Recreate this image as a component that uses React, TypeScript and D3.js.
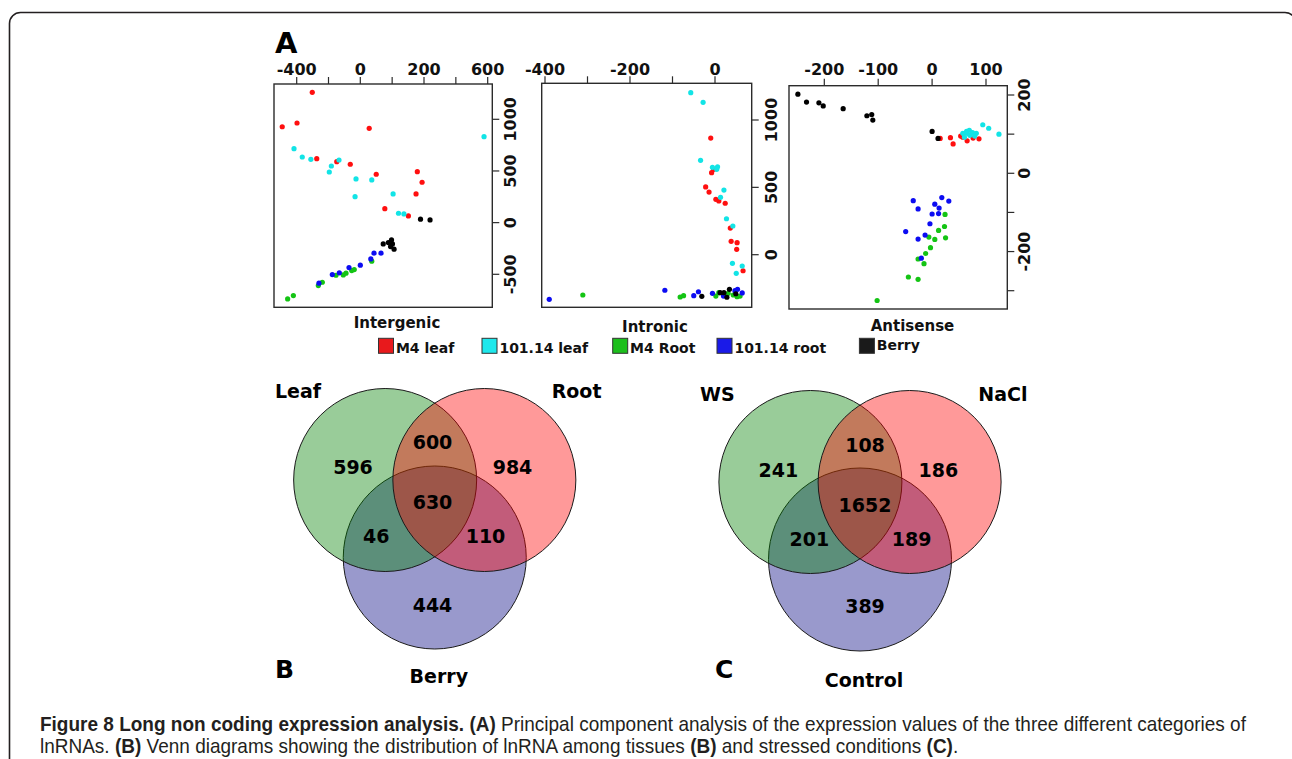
import React, { useLayoutEffect, useRef, useState } from 'react';
import * as d3 from 'd3';

type Pt = [number, number];

// ---------- Panel A : PCA scatter data ----------
const seriesNames = ['M4 leaf', '101.14 leaf', 'M4 Root', '101.14 root', 'Berry'];
const pointColors = ['#ff0f0f', '#12e4e6', '#14c414', '#0c0cf2', '#000000'];
const legendColors = ['#e8191c', '#1ee8ec', '#1cbf1c', '#1a1ae8', '#1a1a1a'];

// Intergenic
const intergenicM4Leaf: Pt[] = [[-302, 1261], [-491, 928], [-398, 964], [28, 913], [-274, 619], [-148, 590], [-63, 565], [50, 468], [179, 493], [194, 391], [175, 278], [77, 135], [151, 65]];
const intergenic10114Leaf: Pt[] = [[577, 832], [-417, 716], [-365, 635], [-311, 613], [-134, 606], [-182, 548], [-195, 490], [-27, 423], [36, 413], [-33, 251], [103, 278], [120, 91], [137, 84]];
const intergenicM4Root: Pt[] = [[36, -373], [-38, -454], [-54, -464], [-90, -489], [-107, -506], [-153, -509], [-239, -577], [-264, -609], [-421, -706], [-457, -738]];
const intergenic10114Root: Pt[] = [[43, -296], [65, -296], [33, -351], [0, -412], [-71, -435], [-132, -486], [-176, -503], [-260, -586]];
const intergenicBerry: Pt[] = [[189, 33], [238, 26], [72, -206], [88, -193], [98, -167], [101, -206], [95, -232], [106, -257]];

// Intronic
const intronicM4Leaf: Pt[] = [[-10, 866], [-3, 634], [-8, 609], [-22, 503], [-14, 465], [2, 411], [9, 399], [24, 382], [36, 198], [38, 99], [52, 89], [51, 40], [66, -119]];
const intronic10114Leaf: Pt[] = [[-57, 1203], [-28, 1131], [-34, 701], [-6, 649], [6, 653], [4, 634], [21, 480], [13, 426], [27, 267], [42, 213], [41, -64], [64, -84], [50, -138]];
const intronicM4Root: Pt[] = [[-311, -299], [-82, -314], [-74, -304], [2, -307], [9, -282], [31, -287], [52, -312], [59, -307], [43, -299]];
const intronic10114Root: Pt[] = [[-390, -331], [-118, -264], [-50, -304], [-39, -275], [-6, -287], [20, -307], [47, -267], [53, -257], [64, -284]];
const intronicBerry: Pt[] = [[-31, -309], [12, -282], [21, -282], [28, -316], [34, -257], [49, -290]];

// Antisense
const antisenseM4Leaf: Pt[] = [[15, 89], [34, 91], [39, 75], [53, 95], [65, 83], [76, 90], [87, 88], [57, 92]];
const antisense10114Leaf: Pt[] = [[94, 124], [105, 115], [124, 100], [57, 102], [64, 107], [69, 110], [75, 104], [82, 102], [60, 92], [70, 97], [79, 95], [65, 102]];
const antisenseM4Root: Pt[] = [[24, -105], [23, -136], [12, -146], [-6, -163], [5, -169], [25, -165], [-3, -190], [-12, -205], [-26, -219], [-15, -231], [-44, -265], [-26, -271], [-102, -325]];
const antisense10114Root: Pt[] = [[-35, -70], [18, -62], [31, -71], [5, -79], [-26, -91], [13, -89], [0, -104], [12, -103], [-4, -129], [-49, -149], [-13, -158], [-26, -168], [-20, -217]];
const antisenseBerry: Pt[] = [[-249, 202], [-233, 182], [-210, 180], [-202, 172], [-165, 165], [-121, 147], [-112, 150], [-110, 136], [0, 107], [11, 89]];

// Axis ticks
const intergenicXTicks = [-400, -200, 0, 100, 200, 400, 600];
const intergenicXTickLabels = ['-400', '0', '200', '600'];
const intergenicYTicks = [-500, 0, 500, 1000];
const intronicXTicks = [-400, -300, -200, -100, 0];
const intronicXTickLabels = ['-400', '-200', '0'];
const intronicYTicks = [0, 500, 1000];
const antisenseXTicks = [-200, -100, 0, 100];
const antisenseXTickLabels = ['-200', '-100', '0', '100'];
const antisenseYTicks = [-300, -200, -100, 0, 100, 200];
const antisenseYTickLabels = ['200', '0', '-200'];

// ---------- Panels B & C : Venn data ----------
const tissueSets = ['Leaf', 'Root', 'Berry'];
// regions: A only, A∩B, B only, A∩B∩C, A∩C, B∩C, C only
const tissueCounts = [596, 600, 984, 630, 46, 110, 444];
const stressSets = ['WS', 'NaCl', 'Control'];
const stressCounts = [241, 108, 186, 1652, 201, 189, 389];
const vennColors = ['#008000', '#ff0000', '#000080'];

// ---------- Caption ----------
const captionLine1 = [
  { text: 'Figure 8 Long non coding expression analysis. ', bold: true },
  { text: '(A)', bold: true },
  { text: ' Principal component analysis of the expression values of the three different categories of', bold: false },
];
const captionLine2 = [
  { text: 'lnRNAs. ', bold: false },
  { text: '(B)', bold: true },
  { text: ' Venn diagrams showing the distribution of lnRNA among tissues ', bold: false },
  { text: '(B)', bold: true },
  { text: ' and stressed conditions ', bold: false },
  { text: '(C)', bold: true },
  { text: '.', bold: false },
];

// ---------- Layout (positions, not data) ----------
const FONT = "'DejaVu Sans', Verdana, sans-serif";
const CAPTION_FONT = "'Liberation Sans Narrow', 'Liberation Sans', Arial, sans-serif";
const captionX0 = 40;
const captionX1 = 1246;

interface PanelCfg {
  title: string;
  series: Pt[][];
  box: [number, number, number, number];
  xDomain: number[];
  xRange: number[];
  yDomain: number[];
  yRange: number[];
  xTicks: number[];
  xLabels: string[];
  yTicks: number[];
  yLabels: string[];
  yLabelX: number;
  titleX: number;
  titleY: number;
}

const panels: PanelCfg[] = [
  {
    title: 'Intergenic',
    series: [intergenicM4Leaf, intergenic10114Leaf, intergenicM4Root, intergenic10114Root, intergenicBerry],
    box: [274, 492.3, 84, 307.3],
    xDomain: [-400, 0, 200, 600],
    xRange: [296.7, 360.3, 424, 487.7],
    yDomain: [-500, 1000],
    yRange: [274.3, 119.3],
    xTicks: intergenicXTicks,
    xLabels: intergenicXTickLabels,
    yTicks: intergenicYTicks,
    yLabels: intergenicYTicks.map(String),
    yLabelX: 516,
    titleX: 397,
    titleY: 328,
  },
  {
    title: 'Intronic',
    series: [intronicM4Leaf, intronic10114Leaf, intronicM4Root, intronic10114Root, intronicBerry],
    box: [541.7, 751.7, 83.3, 307.3],
    xDomain: [-400, 0],
    xRange: [545, 715],
    yDomain: [0, 1000],
    yRange: [254.7, 120],
    xTicks: intronicXTicks,
    xLabels: intronicXTickLabels,
    yTicks: intronicYTicks,
    yLabels: intronicYTicks.map(String),
    yLabelX: 777,
    titleX: 655,
    titleY: 331.5,
  },
  {
    title: 'Antisense',
    series: [antisenseM4Leaf, antisense10114Leaf, antisenseM4Root, antisense10114Root, antisenseBerry],
    box: [789, 1007.3, 85.7, 309],
    xDomain: [-200, 100],
    xRange: [824.3, 986],
    yDomain: [-300, 200],
    yRange: [290.7, 95],
    xTicks: antisenseXTicks,
    xLabels: antisenseXTickLabels,
    yTicks: antisenseYTicks,
    yLabels: antisenseYTickLabels,
    yLabelX: 1030,
    titleX: 912.5,
    titleY: 331,
  },
];

const legendX = [378.5, 482, 612.7, 717, 859.4];

const vennOffsets: Pt[] = [[-49.6, -25], [49.6, -25], [0, 52.5]];
const vennR = 91.5;

interface VennCfg {
  origin: Pt;
  sets: string[];
  counts: number[];
  labelPos: Pt[];
  setLabelPos: { x: number; y: number; anchor: string }[];
  panel: string;
  panelPos: Pt;
}

const venns: VennCfg[] = [
  {
    origin: [434.75, 505],
    sets: tissueSets,
    counts: tissueCounts,
    labelPos: [[-81.75, -31], [-2.25, -55.7], [77.75, -31], [-2.25, 4.3], [-58.5, 38.3], [50.75, 38.3], [-2.25, 106.7]],
    setLabelPos: [
      { x: 275, y: 398, anchor: 'start' },
      { x: 551.7, y: 398, anchor: 'start' },
      { x: 438.8, y: 683, anchor: 'middle' },
    ],
    panel: 'B',
    panelPos: [275, 678],
  },
  {
    origin: [860, 507],
    sets: stressSets,
    counts: stressCounts,
    labelPos: [[-81.7, -30.3], [5, -55.3], [78.3, -30.3], [5, 4.7], [-50.7, 39], [51.7, 39], [5, 106.3]],
    setLabelPos: [
      { x: 700, y: 400.7, anchor: 'start' },
      { x: 978.3, y: 401, anchor: 'start' },
      { x: 864, y: 686.7, anchor: 'middle' },
    ],
    panel: 'C',
    panelPos: [715, 678.3],
  },
];

function Panel({ cfg }: { cfg: PanelCfg }) {
  const [l, r, t, b] = cfg.box;
  const x = d3.scaleLinear().domain(cfg.xDomain).range(cfg.xRange);
  const y = d3.scaleLinear().domain(cfg.yDomain).range(cfg.yRange);
  const tickLen = 7;
  return (
    <g>
      <rect x={l} y={t} width={r - l} height={b - t} fill="none" stroke="#2b2b2b" strokeWidth={1.4} />
      {cfg.xTicks.map((v) => (
        <line key={'xt' + v} x1={x(v)} x2={x(v)} y1={t} y2={t - tickLen} stroke="#2b2b2b" strokeWidth={1.2} />
      ))}
      {cfg.xLabels.map((s) => (
        <text key={'xl' + s} x={x(Number(s))} y={75} textAnchor="middle" fontFamily={FONT} fontWeight="bold" fontSize={16} fill="#111">
          {s}
        </text>
      ))}
      {cfg.yTicks.map((v) => (
        <line key={'yt' + v} x1={r} x2={r + tickLen} y1={y(v)} y2={y(v)} stroke="#2b2b2b" strokeWidth={1.2} />
      ))}
      {cfg.yLabels.map((s) => (
        <text
          key={'yl' + s}
          transform={`translate(${cfg.yLabelX},${y(Number(s))}) rotate(-90)`}
          textAnchor="middle"
          fontFamily={FONT}
          fontWeight="bold"
          fontSize={16}
          fill="#111"
        >
          {s}
        </text>
      ))}
      {cfg.series.map((pts, si) =>
        pts.map((p, i) => (
          <circle key={si + '-' + i} cx={x(p[0])} cy={y(p[1])} r={2.6} fill={pointColors[si]} />
        ))
      )}
      <text x={cfg.titleX} y={cfg.titleY} textAnchor="middle" fontFamily={FONT} fontWeight="bold" fontSize={15} fill="#111">
        {cfg.title}
      </text>
    </g>
  );
}

function Venn({ cfg }: { cfg: VennCfg }) {
  const [ox, oy] = cfg.origin;
  const order = [2, 0, 1];
  return (
    <g>
      {order.map((i) => (
        <circle
          key={'c' + i}
          cx={ox + vennOffsets[i][0]}
          cy={oy + vennOffsets[i][1]}
          r={vennR}
          fill={vennColors[i]}
          fillOpacity={0.4}
          stroke="#1a1a1a"
          strokeWidth={1}
        />
      ))}
      {cfg.counts.map((c, i) => (
        <text
          key={'n' + i}
          x={ox + cfg.labelPos[i][0]}
          y={oy + cfg.labelPos[i][1]}
          textAnchor="middle"
          fontFamily={FONT}
          fontWeight="bold"
          fontSize={19}
          fill="#000"
        >
          {c}
        </text>
      ))}
      {cfg.sets.map((s, i) => (
        <text
          key={'s' + i}
          x={cfg.setLabelPos[i].x}
          y={cfg.setLabelPos[i].y}
          textAnchor={cfg.setLabelPos[i].anchor as any}
          fontFamily={FONT}
          fontWeight="bold"
          fontSize={19}
          fill="#000"
        >
          {s}
        </text>
      ))}
      <text x={cfg.panelPos[0]} y={cfg.panelPos[1]} fontFamily={FONT} fontWeight="bold" fontSize={25} fill="#000">
        {cfg.panel}
      </text>
    </g>
  );
}

function Caption() {
  const ref = useRef<SVGTextElement>(null);
  const [k, setK] = useState(1);
  useLayoutEffect(() => {
    if (ref.current) {
      const w = ref.current.getComputedTextLength();
      if (w > 0) setK((captionX1 - captionX0) / w);
    }
  }, []);
  const line = (segs: { text: string; bold: boolean }[], y: number, r?: any) => (
    <text ref={r} x={0} y={y} fontFamily={CAPTION_FONT} fontSize={20} fill="#231f20" xmlSpace="preserve">
      {segs.map((s, i) => (
        <tspan key={i} fontWeight={s.bold ? 'bold' : 'normal'}>
          {s.text}
        </tspan>
      ))}
    </text>
  );
  return (
    <g transform={`translate(${captionX0},0) scale(${k},1)`}>
      {line(captionLine1, 731.5, ref)}
      {line(captionLine2, 753.5)}
    </g>
  );
}

export default function App() {
  return (
    <svg
      width={1292}
      height={759}
      viewBox="0 0 1292 759"
      style={{ position: 'absolute', left: 0, top: 0, background: '#fff' }}
    >
      <rect x={0} y={0} width={1292} height={759} fill="#fff" />
      <rect x={9.5} y={12.5} width={1286.5} height={800} rx={11} ry={11} fill="none" stroke="#231f20" strokeWidth={1.6} />
      <text x={275} y={53.3} fontFamily={FONT} fontWeight="bold" fontSize={29} fill="#000">
        A
      </text>
      {panels.map((p) => (
        <Panel key={p.title} cfg={p} />
      ))}
      {seriesNames.map((n, i) => (
        <g key={n}>
          <rect x={legendX[i]} y={338.3} width={15} height={15} fill={legendColors[i]} stroke="#333" strokeWidth={1} />
          <text
            x={legendX[i] + 17.4}
            y={i === 4 ? 350 : 352.8}
            fontFamily={FONT}
            fontWeight="bold"
            fontSize={14}
            fill="#111"
          >
            {n}
          </text>
        </g>
      ))}
      {venns.map((v) => (
        <Venn key={v.panel} cfg={v} />
      ))}
      <Caption />
    </svg>
  );
}
